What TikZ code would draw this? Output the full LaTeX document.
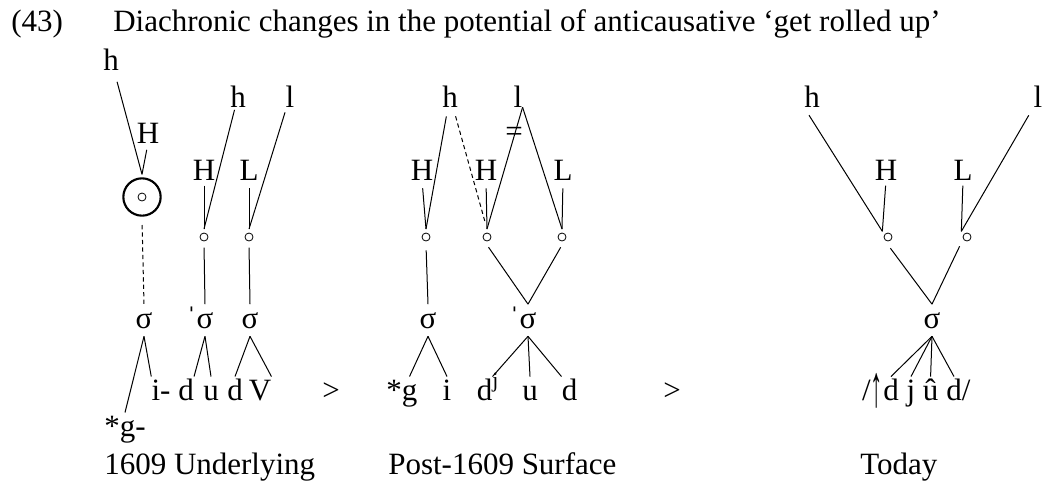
\documentclass[tikz,border=0pt]{standalone}
\usepackage{fontspec}
\usepackage{graphicx}
\setmainfont{Liberation Serif}
\begin{document}
\begin{tikzpicture}[x=0.75pt, y=-0.75pt,
  every node/.style={font=\fontsize{23.25pt}{28pt}\selectfont},
  tone/.style={inner sep=0pt, anchor=base},
  seg/.style={inner sep=0pt, anchor=base, text height=17.4pt, text depth=0pt},
  syl/.style={inner sep=0pt, outer sep=6pt, anchor=base},
  tbu/.style={circle, draw, line width=0.6pt, minimum size=6pt, inner sep=0pt, outer sep=3pt},
  ring/.style={circle, draw, line width=1.6pt, minimum size=28pt, inner sep=0pt, outer sep=3pt},
  assoc/.style={line width=0.75pt},
  weak/.style={assoc, dash pattern=on 3.2pt off 2.4pt}]
  \useasboundingbox (0,0) rectangle (1043,483);
  \node[tone, anchor=base west] (num) at (11,31) {(43)};
  \node[tone, anchor=base west] (title) at (113,31) {Diachronic changes in the potential of anticausative ‘get rolled up’};
  % 1609 underlying
  \node[tone] (hA) at (111,70) {h};
  \node[tone] (HA) at (148,143) {H};
  \node[ring] (ring) at (142,197) {};
  \node[tbu] (ringdot) at (ring.center) {};
  \node[tone] (hB) at (238,107) {h};
  \node[tone] (lA) at (290,107) {l};
  \node[tone] (HB) at (204,180) {H};
  \node[tone] (LA) at (249,180) {L};
  \node[tbu] (tA) at (204,237) {};
  \node[tbu] (tB) at (249,237) {};
  \node[syl] (sA) at (144,328) {σ};
  \node[syl] (sB) at (205,328) {\llap{\smash{ˈ}}σ};
  \node[syl] (sC) at (250,328) {σ};
  \node[seg] (gA) at (125,436) {*g-};
  \node[seg] (iA) at (161,400) {i-};
  \node[seg] (dA) at (186,400) {d};
  \node[seg] (uA) at (211,400) {u};
  \node[seg] (dB) at (235,400) {d};
  \node[seg] (VA) at (260,400) {V};
  \draw[assoc, shorten <=9pt] (hA) -- (ring.north);
  \draw[assoc, shorten <=5pt] (HA.south) -- (ring.north);
  \draw[weak, shorten <=4pt] (ring.south) -- (sA.north);
  \draw[assoc, shorten <=2pt] (hB) -- (tA.north);
  \draw[assoc, shorten <=4pt] (lA) -- (tB.north);
  \draw[assoc, shorten <=4pt] (HB.south) -- (tA.north);
  \draw[assoc, shorten <=6pt] (LA.south) -- (tB.north);
  \draw[assoc, shorten <=2pt] (tA.south) -- (sB.north);
  \draw[assoc, shorten <=2pt] (tB.south) -- (sC.north);
  \draw[assoc] (sA.south) -- (gA.north);
  \draw[assoc] (sA.south) -- (iA.north west);
  \draw[assoc] (sB.south) -- (dA.north east);
  \draw[assoc] (sB.south) -- (uA.north);
  \draw[assoc] (sC.south) -- (dB.north);
  \draw[assoc] (sC.south) -- (VA.north east);
  \node[tone] (gtA) at (331,400) {>};
  % post-1609 surface
  \node[tone] (hC) at (450,107) {h};
  \node[tone] (lB) at (518,107) {l};
  \node[tone, anchor=center] (eq) at (514,134) {=};
  \node[tone] (HC) at (422,180) {H};
  \node[tone] (HD) at (486,180) {H};
  \node[tone] (LB) at (563,180) {L};
  \node[tbu] (tC) at (426,237) {};
  \node[tbu] (tD) at (487,237) {};
  \node[tbu] (tE) at (562,237) {};
  \node[syl] (sD) at (428,328) {σ};
  \node[syl] (sE) at (528,328) {\llap{\smash{ˈ}}σ};
  \node[seg] (gB) at (409.5,400) {\llap{*}g};
  \node[seg] (iB) at (447,400) {i};
  \node[seg] (djA) at (484.5,400) {d\rlap{\textsuperscript{j}}};
  \node[seg] (uB) at (530,400) {u};
  \node[seg] (dC) at (569.5,400) {d};
  \draw[assoc, shorten <=7pt] (hC) -- (tC.north);
  \draw[weak, shorten <=7pt, shorten >=5pt] (hC) -- (tD.north);
  \draw[assoc] (lB.south east) -- (tD.north);
  \draw[assoc] (lB.south east) -- (tE.north);
  \draw[assoc, shorten <=6pt] (HC.south) -- (tC.north);
  \draw[assoc, shorten <=6pt] (HD.south) -- (tD.north);
  \draw[assoc, shorten <=6pt] (LB.south) -- (tE.north);
  \draw[assoc, shorten <=4pt] (tC.south) -- (sD.north);
  \draw[assoc, shorten <=2pt] (tD.south) -- (sE.north);
  \draw[assoc, shorten <=2pt] (tE.south) -- (sE.north);
  \draw[assoc] (sD.south) -- (gB.north);
  \draw[assoc] (sD.south) -- (iB.north);
  \draw[assoc] (sE.south) -- (djA.north east);
  \draw[assoc] (sE.south) -- (uB.north);
  \draw[assoc] (sE.south) -- (dC.north west);
  \node[tone] (gtB) at (672,400) {>};
  % today
  \node[tone] (hD) at (812,107) {h};
  \node[tone] (lC) at (1038,107) {l};
  \node[tone] (HE) at (886,180) {H};
  \node[tone] (LC) at (963,180) {L};
  \node[tbu] (tF) at (888,237) {};
  \node[tbu] (tG) at (967,237) {};
  \node[syl] (sF) at (932,328) {σ};
  \node[seg] (dD) at (891,400) {\llap{/\raisebox{-5pt}{\scalebox{0.8}[1.9]{↑}}}d};
  \node[seg] (jA) at (911,400) {j};
  \node[seg] (uC) at (930.6,400) {û};
  \node[seg] (dE) at (954,400) {d\rlap{/}};
  \draw[assoc, shorten <=7pt] (hD.south west) -- (tF.north west);
  \draw[assoc, shorten <=4pt] (HE.south) -- (tF.north west);
  \draw[assoc, shorten <=7pt] (lC.south west) -- (tG.north west);
  \draw[assoc, shorten <=4pt] (LC.south) -- (tG.north west);
  \draw[assoc, shorten <=3pt] (tF.south) -- (sF.north);
  \draw[assoc, shorten <=3pt] (tG.south west) -- (sF.north);
  \draw[assoc] (sF.south) -- (dD.north);
  \draw[assoc] (sF.south) -- (jA.north);
  \draw[assoc] (sF.south) -- (uC.north);
  \draw[assoc] (sF.south) -- (dE.north);
  % captions
  \node[tone, anchor=base west] (capA) at (104,474) {1609 Underlying};
  \node[tone, anchor=base west] (capB) at (388,474) {Post-1609 Surface};
  \node[tone, anchor=base west] (capC) at (860,474) {Today};
\end{tikzpicture}
\end{document}
